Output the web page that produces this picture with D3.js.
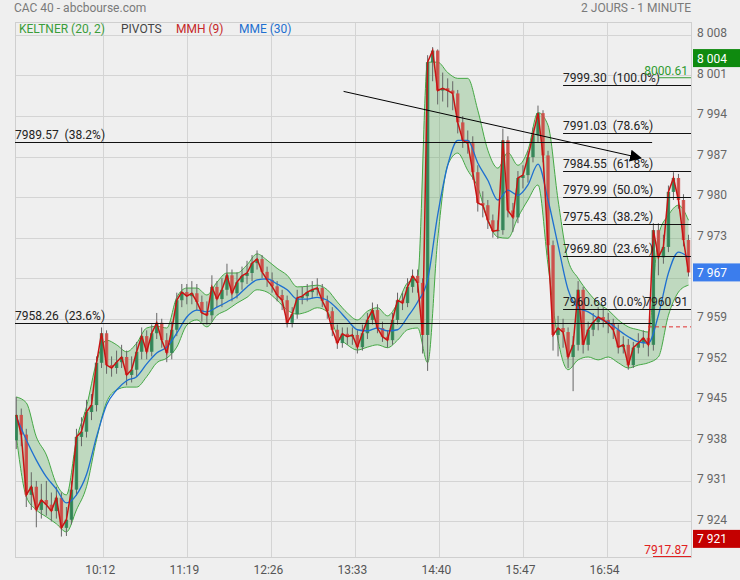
<!DOCTYPE html>
<html><head><meta charset="utf-8">
<script src="https://cdn.jsdelivr.net/npm/d3@7"></script>
<style>
body{margin:0;background:#efefef;}
svg{display:block;font-family:Roboto,"Noto Sans",sans-serif;}
</style></head><body><svg id="c" width="740" height="580"></svg>
<script>
// ---------- DATA ----------
// candles: minute of day (after 09:00) = T0 + STEP*i
const T0 = 3, STEP = 4;
const firstOpen = 7938.0;
const closes = [7942.4,7939.0,7928.6,7930.0,7926.0,7927.7,7926.9,7925.8,7928.1,7922.9,
7924.3,7929.5,7938.6,7939.5,7942.9,7944.1,7951.4,7956.5,7951.0,7950.5,
7951.5,7952.4,7949.3,7950.2,7953.3,7956.0,7953.3,7956.5,7958.3,7955.3,
7953.1,7957.1,7962.2,7963.6,7962.9,7963.4,7961.9,7960.0,7959.6,7964.5,
7962.4,7964.0,7966.5,7963.4,7965.3,7966.4,7966.9,7968.6,7969.3,7967.1,
7965.7,7964.6,7963.1,7962.2,7958.3,7959.8,7962.6,7962.9,7963.6,7964.0,
7964.3,7962.1,7960.3,7957.1,7954.8,7956.4,7955.9,7956.2,7954.1,7956.5,
7958.8,7960.5,7957.4,7955.9,7955.3,7958.8,7962.2,7961.7,7964.5,7966.4,
7965.2,7956.2,8003.3,8005.3,7998.4,7998.8,7998.4,7997.9,7992.9,7989.8,
7989.3,7984.3,7979.0,7978.6,7976.0,7974.1,7974.3,7989.8,7977.7,7976.5,
7983.3,7983.8,7986.9,7990.7,7994.5,7987.2,7971.7,7956.2,7957.4,7956.7,
7952.4,7954.5,7964.0,7954.5,7957.1,7958.4,7959.3,7958.8,7958.1,7957.1,
7954.1,7954.5,7951.0,7954.0,7954.8,7955.7,7954.5,7974.3,7969.6,7971.4,
7980.9,7983.3,7979.5,7972.6,7967.0];
const highs = [7945.5,7943.5,7940.0,7932.5,7931.0,7930.5,7931.0,7929.0,7930.0,7929.0,
7926.5,7931.0,7940.0,7942.0,7945.0,7946.0,7952.5,7957.5,7957.0,7952.5,
7953.5,7954.5,7953.5,7952.5,7955.0,7957.5,7957.0,7958.0,7960.0,7959.0,
7956.5,7958.5,7963.5,7965.0,7965.0,7965.5,7965.0,7963.0,7962.0,7966.5,
7965.5,7966.0,7968.5,7967.5,7967.0,7968.0,7969.0,7970.0,7970.8,7970.0,
7968.0,7967.0,7965.5,7964.0,7963.0,7961.0,7964.0,7964.5,7965.0,7965.5,
7966.0,7965.0,7963.0,7961.0,7958.0,7957.5,7957.5,7957.5,7957.0,7958.0,
7960.0,7961.8,7961.5,7958.5,7957.0,7960.0,7963.5,7963.5,7966.0,7967.5,
7967.5,7966.0,8004.5,8005.9,8005.5,8001.5,8000.5,8000.0,7998.5,7994.0,
7991.5,7990.5,7985.5,7981.0,7979.5,7977.0,7976.0,7991.8,7990.5,7979.0,
7984.5,7985.5,7988.0,7992.0,7995.8,7995.0,7988.0,7972.5,7959.5,7959.0,
7957.5,7956.0,7965.5,7964.5,7958.5,7960.0,7961.0,7961.0,7960.0,7959.0,
7958.0,7956.0,7955.5,7955.0,7956.5,7957.0,7956.5,7975.5,7975.5,7973.5,
7982.0,7984.3,7984.0,7980.5,7973.5];
const lows = [7936.5,7937.0,7926.5,7926.0,7923.0,7924.5,7925.0,7924.0,7924.5,7921.4,
7921.5,7923.5,7928.5,7937.0,7938.5,7941.5,7943.0,7950.5,7949.5,7949.0,
7949.5,7950.5,7947.5,7948.0,7949.0,7952.0,7952.0,7952.5,7955.5,7954.0,
7951.5,7952.0,7956.0,7961.0,7961.5,7961.5,7960.5,7958.5,7958.0,7958.5,
7961.0,7961.0,7963.0,7962.0,7962.5,7964.0,7965.0,7965.5,7967.5,7966.0,
7964.5,7963.5,7962.0,7960.5,7957.5,7957.5,7959.0,7961.5,7962.0,7962.5,
7963.0,7961.0,7959.0,7956.0,7953.8,7954.0,7954.5,7954.5,7953.0,7953.5,
7955.5,7958.0,7956.5,7955.0,7954.0,7954.5,7958.0,7960.5,7961.0,7963.5,
7963.5,7953.0,7950.0,8000.0,7996.0,7996.5,7995.5,7995.0,7991.0,7988.5,
7987.5,7983.0,7977.5,7976.5,7974.5,7973.0,7972.8,7973.5,7976.5,7974.0,
7975.5,7981.5,7982.5,7986.0,7989.5,7986.0,7970.0,7953.5,7952.5,7954.0,
7950.5,7946.5,7953.5,7953.0,7953.5,7956.0,7957.0,7957.5,7956.5,7955.5,
7953.0,7953.0,7950.2,7950.5,7953.0,7954.0,7952.5,7953.5,7966.5,7968.5,
7970.5,7979.5,7978.0,7971.5,7966.3];

// indicators: minute = B0 + BSTEP*k
const B0 = 3, BSTEP = 8;
const keltnerUpper = [7945.5,7944.5,7938.6,7935.5,7930.5,7928.6,7938.1,7943.8,7951.5,7955.3,
7954.5,7953.3,7954.8,7957.4,7957.7,7957.4,7962.7,7964.3,7964.3,7963.1,
7965.3,7966.9,7966.9,7968.3,7970.2,7969.1,7967.7,7966.5,7964.5,7964.6,
7964.8,7964.0,7961.9,7960.0,7958.8,7960.3,7960.9,7959.5,7961.7,7965.2,
7966.0,8003.3,8003.3,8001.5,8000.5,8000.5,7995.0,7988.1,7985.0,7987.7,
7985.5,7988.1,7994.6,7992.4,7979.5,7969.1,7966.0,7963.6,7961.7,7960.5,
7958.8,7957.6,7957.1,7956.7,7973.4,7976.9,7978.6,7976.0];
const keltnerLower = [7938.8,7928.3,7926.0,7924.8,7923.6,7922.2,7926.0,7930.0,7938.1,7944.6,
7946.7,7947.2,7947.2,7949.0,7951.4,7952.2,7954.1,7957.9,7958.8,7957.6,
7959.6,7960.5,7961.7,7962.7,7964.0,7963.6,7962.2,7960.5,7959.8,7960.2,
7960.9,7960.2,7956.2,7954.5,7953.6,7954.1,7954.5,7954.0,7955.3,7957.1,
7957.4,7951.4,7972.6,7985.5,7987.6,7984.6,7981.7,7976.0,7973.1,7972.9,
7976.5,7979.5,7982.1,7968.3,7955.3,7950.2,7951.9,7952.4,7951.9,7952.4,
7951.4,7950.5,7951.0,7951.4,7952.4,7959.6,7963.6,7964.8];
const mme30 = [7942.1,7938.1,7934.6,7931.7,7929.6,7927.2,7928.6,7932.1,7938.6,7944.1,
7946.7,7948.3,7949.0,7951.2,7953.1,7954.1,7956.5,7959.3,7960.5,7960.2,
7961.0,7961.9,7962.9,7964.5,7965.7,7965.9,7965.0,7964.0,7962.4,7962.4,
7962.7,7962.2,7960.7,7958.8,7957.1,7956.9,7957.4,7956.9,7957.1,7959.3,
7961.9,7965.7,7976.9,7985.5,7989.8,7989.8,7985.9,7982.9,7979.5,7981.2,
7980.3,7982.1,7985.7,7979.5,7971.7,7964.0,7960.9,7960.2,7959.1,7958.4,
7957.1,7955.9,7955.0,7954.8,7959.6,7966.9,7970.5,7969.6];

const tickMinutes = [72,139,206,273,340,407,474];
const tickLabels = ["10:12","11:19","12:26","13:33","14:40","15:47","16:54"];
const yTicks = [8008,8001,7994,7987,7980,7973,7966,7959,7952,7945,7938,7931,7924];

const fibLeftLevels = [7989.57,7958.26];
const fibLeftPct = ["38.2%","23.6%"];
const fibLeftEnd = 510;          // minute where left retracement lines stop
const fibRightLevels = [7999.30,7991.03,7984.55,7979.99,7975.43,7969.80,7960.68];
const fibRightPct = ["100.0%","78.6%","61.8%","50.0%","38.2%","23.6%","0.0%"];
const fibRightStart = 439;

const trendMin = [264,501], trendVal = [7998.25,7986.75];
const dayHigh = 8000.61, dayLow = 7917.87, pivot = 7960.91, prevClose = 7957.6;
const badgeVals = [8004,7967,7921];
const badgeCols = ["#0f8a0f","#3b7ded","#c40000"];

// ---------- CHART ----------
const L=15,R=691,TOP=22,BOT=557;
const svg=d3.select("#c");
const x=d3.scaleLinear().domain([2,541]).range([L,R]);
const y=d3.scaleLinear().domain([7917.87,8010.23]).range([BOT,TOP]);
const fmt=v=>d3.format(",")(v).replace(/,/g," ");
const NB="\u00a0\u00a0";

svg.append("rect").attr("width",740).attr("height",580).attr("fill","#efefef");
svg.append("text").attr("x",14).attr("y",12).attr("font-size",12).attr("fill","#7a7a7a").text("CAC 40 - abcbourse.com");
svg.append("text").attr("x",R).attr("y",12).attr("text-anchor","end").attr("font-size",12).attr("fill","#7a7a7a").text("2 JOURS - 1 MINUTE");

// grid
const g=svg.append("g");
g.selectAll(".hg").data(yTicks).join("line").attr("x1",L).attr("x2",R)
 .attr("y1",d=>Math.round(y(d))+0.5).attr("y2",d=>Math.round(y(d))+0.5).attr("stroke","#d4d4d4");
g.selectAll(".vg").data(tickMinutes).join("line").attr("y1",TOP).attr("y2",BOT)
 .attr("x1",d=>Math.round(x(d))+0.5).attr("x2",d=>Math.round(x(d))+0.5).attr("stroke","#d4d4d4");
g.append("rect").attr("x",L+0.5).attr("y",TOP+0.5).attr("width",R-L).attr("height",BOT-TOP)
 .attr("fill","none").attr("stroke","#cfcfcf");

// legend
const leg=[["KELTNER (20, 2)","#3a9d3a",19],["PIVOTS","#444",121],["MMH (9)","#c62828",176],["MME (30)","#1e6fd0",239]];
svg.selectAll(".leg").data(leg).join("text").attr("x",d=>d[2]).attr("y",33).attr("font-size",12)
 .attr("fill",d=>d[1]).text(d=>d[0]);

svg.append("clipPath").attr("id","pc").append("rect").attr("x",L).attr("y",TOP).attr("width",R-L).attr("height",BOT-TOP);
const p=svg.append("g").attr("clip-path","url(#pc)");

// keltner band
const bt=k=>B0+BSTEP*k;
const idx=d3.range(keltnerUpper.length);
p.append("path").datum(idx).attr("fill","rgba(70,160,70,0.28)")
 .attr("d",d3.area().x(k=>x(bt(k))).y0(k=>y(keltnerLower[k])).y1(k=>y(keltnerUpper[k])).curve(d3.curveMonotoneX));
[keltnerUpper,keltnerLower].forEach(arr=>{
 p.append("path").datum(idx).attr("fill","none").attr("stroke","#45a845").attr("stroke-width",1)
  .attr("d",d3.line().x(k=>x(bt(k))).y(k=>y(arr[k])).curve(d3.curveMonotoneX));
});

// candles
const ct=i=>T0+STEP*i;
const cidx=d3.range(closes.length);
const opens=cidx.map(i=>i===0?firstOpen:closes[i-1]);
p.selectAll(".wk").data(cidx).join("line")
 .attr("x1",i=>x(ct(i))).attr("x2",i=>x(ct(i))).attr("y1",i=>y(highs[i])).attr("y2",i=>y(lows[i]))
 .attr("stroke","#666").attr("stroke-width",1);
p.selectAll(".bd").data(cidx).join("rect")
 .attr("x",i=>x(ct(i))-1.7).attr("width",3.4)
 .attr("y",i=>y(Math.max(opens[i],closes[i])))
 .attr("height",i=>Math.max(1,Math.abs(y(opens[i])-y(closes[i]))))
 .attr("fill",i=>closes[i]>=opens[i]?"#2e8453":"#d24a45").attr("opacity",0.9);

// MME 30
p.append("path").datum(idx).attr("fill","none").attr("stroke","#1e6fd0").attr("stroke-width",1.3)
 .attr("d",d3.line().x(k=>x(bt(k))).y(k=>y(mme30[k])).curve(d3.curveMonotoneX));
// MMH 9
p.append("path").datum(cidx).attr("fill","none").attr("stroke","#c81414").attr("stroke-width",1.5)
 .attr("d",d3.line().x(i=>x(ct(i))).y(i=>y(closes[i])));

// fib / pivot lines
const ft=svg.append("g").attr("font-size",12).attr("fill","#222");
fibLeftLevels.forEach((v,j)=>{
 svg.append("line").attr("x1",L).attr("x2",x(fibLeftEnd)).attr("y1",Math.round(y(v))+0.5).attr("y2",Math.round(y(v))+0.5).attr("stroke","#111");
 ft.append("text").attr("x",L).attr("y",Math.round(y(v))-3).text(v.toFixed(2)+NB+"("+fibLeftPct[j]+")");
});
fibRightLevels.forEach((v,j)=>{
 svg.append("line").attr("x1",x(fibRightStart)).attr("x2",R).attr("y1",Math.round(y(v))+0.5).attr("y2",Math.round(y(v))+0.5).attr("stroke","#111");
 ft.append("text").attr("x",x(fibRightStart)).attr("y",Math.round(y(v))-3).text(v.toFixed(2)+NB+"("+fibRightPct[j]+")");
});
svg.append("text").attr("x",R-3).attr("y",y(fibRightLevels[6])-3).attr("text-anchor","end").attr("font-size",12).attr("fill","#222").text(pivot.toFixed(2));
svg.append("line").attr("x1",R-43).attr("x2",R).attr("y1",y(prevClose)).attr("y2",y(prevClose)).attr("stroke","#e03030").attr("stroke-dasharray","4,3");

// high / low markers
svg.append("line").attr("x1",R-33).attr("x2",R).attr("y1",y(dayHigh)).attr("y2",y(dayHigh)).attr("stroke","#3a9d3a");
svg.append("text").attr("x",R-3).attr("y",y(dayHigh)-3).attr("text-anchor","end").attr("font-size",12).attr("fill","#2e9a2e").text(dayHigh.toFixed(2));
svg.append("line").attr("x1",R-38).attr("x2",R).attr("y1",y(dayLow)-0.5).attr("y2",y(dayLow)-0.5).attr("stroke","#e02020");
svg.append("text").attr("x",R-3).attr("y",y(dayLow)-3).attr("text-anchor","end").attr("font-size",12).attr("fill","#e02020").text(dayLow.toFixed(2));

// trend arrow
svg.append("defs").append("marker").attr("id","ar").attr("viewBox","0 0 10 10").attr("refX",9).attr("refY",5)
 .attr("markerWidth",12).attr("markerHeight",12).attr("markerUnits","userSpaceOnUse").attr("orient","auto")
 .append("path").attr("d","M0,0L10,5L0,10Z").attr("fill","#000");
svg.append("line").attr("x1",x(trendMin[0])).attr("y1",y(trendVal[0])).attr("x2",x(trendMin[1])).attr("y2",y(trendVal[1]))
 .attr("stroke","#000").attr("stroke-width",1).attr("marker-end","url(#ar)");

// axes (labels hidden under a price badge are not drawn)
const labelTicks=yTicks.filter(t=>badgeVals.every(b=>Math.abs(y(b)-y(t))>11));
const ya=svg.append("g").attr("transform",`translate(${R},0)`)
 .call(d3.axisRight(y).tickValues(labelTicks).tickFormat(fmt).tickSize(0).tickPadding(6));
ya.select(".domain").remove();
ya.selectAll("text").attr("font-size",12).attr("fill","#666").attr("font-family","Roboto,sans-serif").attr("dy","0.15em");
const xa=svg.append("g").attr("transform",`translate(0,${BOT})`)
 .call(d3.axisBottom(x).tickValues(tickMinutes).tickFormat((d,i)=>tickLabels[i]).tickSize(0).tickPadding(8));
xa.select(".domain").remove();
xa.selectAll("text").attr("font-size",12).attr("fill","#555").attr("font-family","Roboto,sans-serif").attr("transform","translate(-3,0)");

// badges
badgeVals.forEach((v,j)=>{
 svg.append("rect").attr("x",R+2).attr("y",y(v)-9).attr("width",740-R-2).attr("height",18).attr("fill",badgeCols[j]);
 svg.append("text").attr("x",R+6).attr("y",y(v)+4.5).attr("font-size",12).attr("fill","#fff").text(fmt(v));
});
</script></body></html>
